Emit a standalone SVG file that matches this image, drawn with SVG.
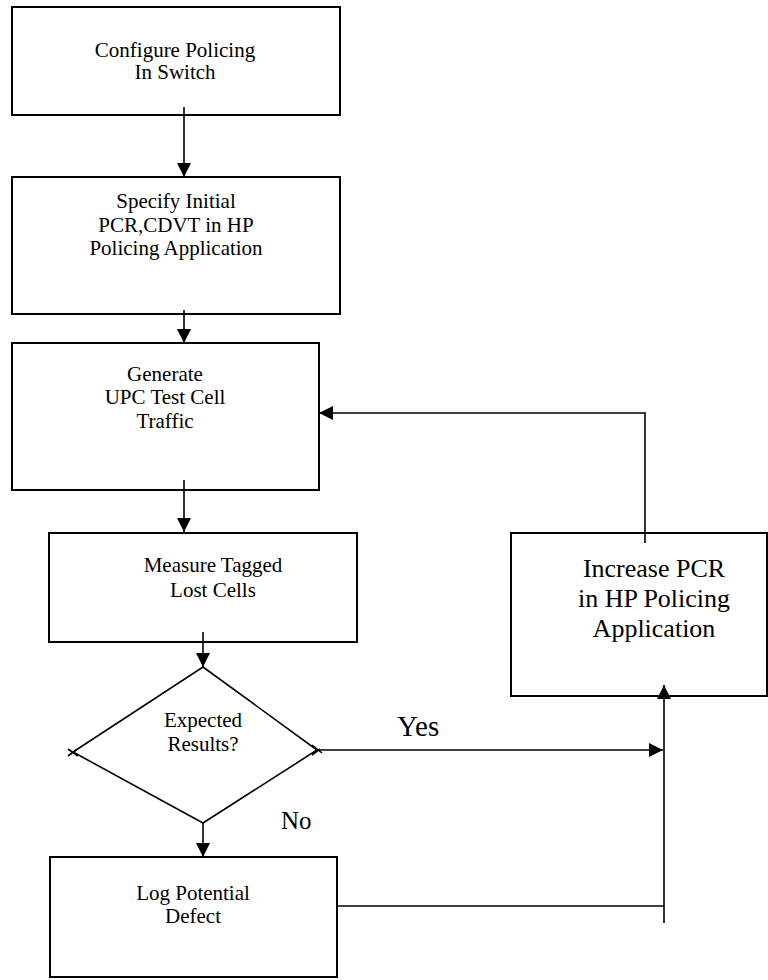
<svg xmlns="http://www.w3.org/2000/svg" width="768" height="980" viewBox="0 0 768 980">
<defs>
<marker id="ah" markerUnits="userSpaceOnUse" markerWidth="15" markerHeight="14" refX="14" refY="7" orient="auto">
<path d="M0,0 L14,7 L0,14 Z" fill="#000"/>
</marker>
<style>
.box{fill:#fff;stroke:#000;stroke-width:2}
.dia{fill:#fff;stroke:#000;stroke-width:1.6}
.c{fill:none;stroke:#000;stroke-width:1.6}
.t{font-family:"Liberation Serif","Times New Roman",serif;font-size:21px;fill:#000;text-anchor:middle}
.tb{font-family:"Liberation Serif","Times New Roman",serif;font-size:26px;fill:#000;text-anchor:middle}
.lbl{font-family:"Liberation Serif","Times New Roman",serif;fill:#000}
</style>
</defs>
<rect width="768" height="980" fill="#fff"/>

<g id="n1">
<rect class="box" x="12" y="7" width="328" height="108"/>
<text class="t" x="175" y="57">Configure Policing</text>
<text class="t" x="175" y="79">In Switch</text>
</g>

<g id="n2">
<rect class="box" x="12" y="177" width="328" height="137"/>
<text class="t" x="176" y="208">Specify Initial</text>
<text class="t" x="176" y="232">PCR,CDVT in HP</text>
<text class="t" x="176" y="255">Policing Application</text>
</g>

<g id="n3">
<rect class="box" x="12" y="343" width="307" height="147"/>
<text class="t" x="165" y="381">Generate</text>
<text class="t" x="165" y="404">UPC Test Cell</text>
<text class="t" x="165" y="428">Traffic</text>
</g>

<g id="n4">
<rect class="box" x="49" y="533" width="308" height="109"/>
<text class="t" x="213" y="572">Measure Tagged</text>
<text class="t" x="213" y="597">Lost Cells</text>
</g>

<g id="n5">
<path class="dia" d="M203,667 L317,750 L203,823 L73,752 Z"/>
<path class="c" d="M68,749 L78,756 M68,756 L76,750 M312,745 L322,753 M312,755 L320,749"/>
<text class="t" x="203" y="727">Expected</text>
<text class="t" x="203" y="751">Results?</text>
</g>

<g id="n6">
<rect class="box" x="50" y="857" width="287" height="120"/>
<text class="t" x="193" y="900">Log Potential</text>
<text class="t" x="193" y="923">Defect</text>
</g>

<g id="n7">
<rect class="box" x="511" y="533" width="256" height="163"/>
<text class="tb" x="654" y="577">Increase PCR</text>
<text class="tb" x="654" y="607">in HP Policing</text>
<text class="tb" x="654" y="637">Application</text>
</g>

<g id="connectors">
<line class="c" x1="184" y1="107" x2="184" y2="177" marker-end="url(#ah)"/>
<line class="c" x1="184" y1="310" x2="184" y2="343" marker-end="url(#ah)"/>
<line class="c" x1="184" y1="480" x2="184" y2="532" marker-end="url(#ah)"/>
<line class="c" x1="203" y1="632" x2="203" y2="667" marker-end="url(#ah)"/>
<line class="c" x1="203" y1="823" x2="203" y2="857" marker-end="url(#ah)"/>
<line class="c" x1="318" y1="750" x2="663" y2="750" marker-end="url(#ah)"/>
<line class="c" x1="664" y1="923" x2="664" y2="685" marker-end="url(#ah)"/>
<polyline class="c" points="645,543 645,413 319,413" marker-end="url(#ah)"/>
<line class="c" x1="337" y1="906" x2="664" y2="906"/>
<text class="lbl" x="397" y="736" font-size="29">Yes</text>
<text class="lbl" x="281" y="829" font-size="25">No</text>
</g>
</svg>
